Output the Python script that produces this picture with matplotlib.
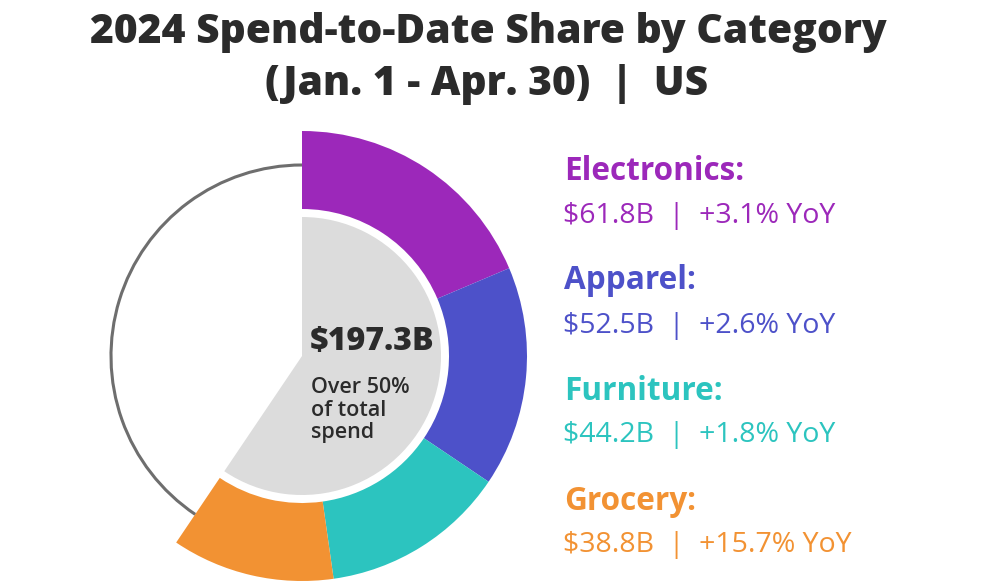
import matplotlib
matplotlib.use("Agg")
import matplotlib.pyplot as plt
from matplotlib.patches import Arc

# ---- data ----
categories = ["Electronics", "Apparel", "Furniture", "Grocery"]
spend_b = [61.8, 52.5, 44.2, 38.8]
yoy_pct = [3.1, 2.6, 1.8, 15.7]
other_spend_b = 134.6          # rest of total online spend (unfilled part of the ring)
total_label = "$197.3B"
center_note = ["Over 50%", "of total", "spend"]
colors = ["#9C28BA", "#4D51C9", "#2CC4BF", "#F29233"]
title_lines = ["2024 Spend-to-Date Share by Category", "(Jan. 1 - Apr. 30)  |  US"]

W, H = 992, 588
fig = plt.figure(figsize=(W / 100, H / 100), dpi=100)
ax = fig.add_axes([0, 0, 1, 1])

cx, cy = 302, H - 356
R_out, R_in, R_disk, R_line = 225, 147, 139, 191

share = sum(spend_b)
total = share + other_spend_b

# outer coloured ring
ax.pie(spend_b + [other_spend_b], radius=R_out, center=(cx, cy), startangle=90,
       counterclock=False, colors=colors + ["none"],
       wedgeprops=dict(width=R_out - R_in, linewidth=0))
# inner grey wedge
ax.pie([share, other_spend_b], radius=R_disk, center=(cx, cy), startangle=90,
       counterclock=False, colors=["#DCDCDC", "none"], wedgeprops=dict(linewidth=0))
# thin grey arc for remainder
ax.add_patch(Arc((cx, cy), 2 * R_line, 2 * R_line, theta1=90,
                 theta2=90 + 360 * other_spend_b / total, color="#6E6E6E", lw=2.2))

ax.set_xlim(0, W)
ax.set_ylim(0, H)
ax.set_aspect("equal")
ax.axis("off")

dark = "#2B2B2B"
ff = "Open Sans"
ax.text(488, H - 43, title_lines[0], ha="center", va="baseline", fontsize=29.3,
        fontweight="heavy", family=ff, color=dark)
ax.text(487, H - 95, title_lines[1], ha="center", va="baseline", fontsize=29.3,
        fontweight="heavy", family=ff, color=dark)

# centre text
ax.text(310, H - 350, total_label, ha="left", va="baseline", fontsize=23,
        fontweight="heavy", family=ff, color=dark)
for i, line in enumerate(center_note):
    ax.text(311, H - (393 + 22.5 * i), line, ha="left", va="baseline", fontsize=15.5,
            fontweight="semibold", family=ff, color=dark)

# right-hand labels
head_base = [180, 289, 400, 510]
val_base = [223, 333, 442, 552]
for cat, v, y, c, hb, vb in zip(categories, spend_b, yoy_pct, colors, head_base, val_base):
    ax.text(564, H - hb, cat + ":", ha="left", va="baseline", fontsize=22.7,
            fontweight="bold", family=ff, color=c)
    ax.text(563, H - vb, f"${v:.1f}B  |  +{y:.1f}% YoY", ha="left", va="baseline",
            fontsize=20.5, fontweight="normal", family=ff, color=c)

fig.savefig("out.png", dpi=100, facecolor="white")
